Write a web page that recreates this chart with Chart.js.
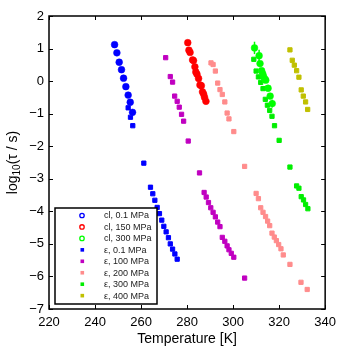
<!DOCTYPE html>
<html><head><meta charset="utf-8">
<script src="https://cdn.jsdelivr.net/npm/chart.js@4/dist/chart.umd.min.js"></script>
<style>html,body{margin:0;padding:0;background:#fff;}canvas{display:block;}</style>
</head><body>
<canvas id="c" width="342" height="349"></canvas>
<script>
// ---- data (temperature [K], log10(tau/s)) ----
const cl01T = [248.5, 249.5, 250.5, 251.5, 252.4, 253.4, 254.4, 255.3, 256.3];
const cl01Y = [1.12, 0.87, 0.58, 0.35, 0.09, -0.17, -0.43, -0.65, -0.96];
const cl150T = [280.3, 280.8, 281.3, 282.4, 282.8, 283.4, 283.8, 284.3, 285.0, 285.6, 286.2, 286.7, 287.2, 287.6, 288.2];
const cl150Y = [1.18, 0.95, 0.88, 0.65, 0.63, 0.44, 0.28, 0.21, 0.08, -0.12, -0.14, -0.33, -0.40, -0.50, -0.62];
const cl300T = [309.3, 311.3, 311.7, 312.4, 312.9, 313.3, 313.8, 314.2, 315.2, 316.1, 317.0];
const cl300Y = [1.02, 0.78, 0.54, 0.32, 0.22, 0.13, 0.06, 0.03, -0.22, -0.46, -0.69];
const cl300Err = [0.19, 0.18, 0, 0, 0, 0, 0, 0, 0.04, 0, 0.12];
const e01T = [254.4, 255.4, 256.4, 261.2, 264.1, 265.1, 266.0, 267.0, 268.0, 269.0, 269.9, 270.9, 271.9, 272.7, 273.7, 274.7, 275.7];
const e01Y = [-0.82, -1.11, -1.37, -2.52, -3.26, -3.46, -3.66, -3.88, -4.07, -4.27, -4.46, -4.63, -4.81, -5.00, -5.16, -5.31, -5.47];
const e100T = [270.7, 272.7, 273.7, 274.6, 275.7, 276.6, 277.6, 278.5, 280.5, 285.4, 287.4, 288.3, 289.3, 290.3, 291.3, 292.3, 293.3, 294.3, 295.3, 296.4, 297.4, 298.2, 299.2, 300.3, 305.0];
const e100Y = [0.72, 0.14, -0.03, -0.46, -0.62, -0.80, -1.02, -1.23, -1.84, -2.82, -3.42, -3.56, -3.73, -3.89, -4.03, -4.17, -4.33, -4.47, -4.80, -4.92, -5.06, -5.18, -5.29, -5.41, -6.05];
const e200T = [290.4, 291.3, 292.3, 293.3, 294.3, 295.3, 296.4, 297.4, 298.2, 300.3, 305.0, 310.0, 311.0, 312.0, 313.0, 314.1, 315.0, 315.9, 316.9, 317.9, 318.8, 319.8, 320.8, 321.8, 324.7, 329.5, 332.2];
const e200Y = [0.56, 0.51, 0.31, -0.06, -0.26, -0.41, -0.64, -0.98, -1.16, -1.55, -2.62, -3.45, -3.61, -3.89, -4.03, -4.16, -4.30, -4.44, -4.67, -4.79, -4.90, -5.02, -5.15, -5.34, -5.63, -6.18, -6.40];
const e300T = [309.0, 310.0, 311.0, 312.0, 313.0, 314.0, 314.9, 315.9, 316.9, 318.0, 320.0, 324.7, 327.6, 328.6, 329.6, 330.6, 331.5, 332.5];
const e300Y = [0.67, 0.31, 0.13, -0.04, -0.23, -0.56, -0.74, -0.90, -1.08, -1.37, -1.82, -2.64, -3.22, -3.29, -3.55, -3.65, -3.79, -3.92];
const e400T = [324.7,325.7, 326.6, 327.6, 328.6, 329.6, 330.5, 331.5, 332.4];
const e400Y = [0.96, 0.64, 0.49, 0.32, 0.12, -0.27, -0.46, -0.64, -0.87];

const xTicks = [220, 240, 260, 280, 300, 320, 340];
const yTicks = [-7, -6, -5, -4, -3, -2, -1, 0, 1, 2];
const seriesLabels = ['cl, 0.1 MPa', 'cl, 150 MPa', 'cl, 300 MPa', 'ε, 0.1 MPa', 'ε, 100 MPa', 'ε, 200 MPa', 'ε, 300 MPa', 'ε, 400 MPa'];

const pts = (T, Y) => T.map((t, i) => ({x: t, y: Y[i]}));
const FONT = '"Liberation Sans", Arial, Helvetica, sans-serif';

function ds(label, T, Y, color, style) {
  const circ = style === 'circle';
  return {
    label, data: pts(T, Y), showLine: false,
    pointStyle: circ ? 'circle' : 'rect',
    pointRadius: circ ? 3.4 : 3.0,
    pointBorderWidth: circ ? 0.5 : 1,
    backgroundColor: color, borderColor: color,
    pointBackgroundColor: color, pointBorderColor: color
  };
}

const colors = ['#0000ff', '#ff0000', '#00ff00', '#0000ff', '#c000c0', '#ff8c8c', '#00ee00', '#c0c000'];
const styles = ['circle', 'circle', 'circle', 'rect', 'rect', 'rect', 'rect', 'rect'];

const datasets = [
  ds(seriesLabels[0], cl01T, cl01Y, colors[0], styles[0]),
  ds(seriesLabels[1], cl150T, cl150Y, colors[1], styles[1]),
  ds(seriesLabels[2], cl300T, cl300Y, colors[2], styles[2]),
  ds(seriesLabels[3], e01T, e01Y, colors[3], styles[3]),
  ds(seriesLabels[4], e100T, e100Y, colors[4], styles[4]),
  ds(seriesLabels[5], e200T, e200Y, colors[5], styles[5]),
  ds(seriesLabels[6], e300T, e300Y, colors[6], styles[6]),
  ds(seriesLabels[7], e400T, e400Y, colors[7], styles[7])
];

const decor = {
  id: 'decor',
  beforeDatasetsDraw(chart) {
    const {ctx, scales: {x, y}} = chart;
    ctx.save();
    ctx.strokeStyle = '#00ff00';
    ctx.lineWidth = 1.5;
    cl300T.forEach((t, i) => {
      const e = cl300Err[i];
      if (!e) return;
      const px = x.getPixelForValue(t);
      ctx.beginPath();
      ctx.moveTo(px, y.getPixelForValue(cl300Y[i] - e));
      ctx.lineTo(px, y.getPixelForValue(cl300Y[i] + e));
      ctx.stroke();
    });
    ctx.restore();
  },
  afterDraw(chart) {
    const {ctx, chartArea: a, scales: {x, y}} = chart;
    ctx.save();
    // frame
    ctx.strokeStyle = '#000';
    ctx.lineWidth = 1.5;
    ctx.strokeRect(a.left, a.top, a.right - a.left, a.bottom - a.top);
    // inward ticks on all sides
    ctx.lineWidth = 1;
    const tl = 4;
    xTicks.forEach(v => {
      const px = Math.round(x.getPixelForValue(v)) + 0.5;
      ctx.beginPath();
      ctx.moveTo(px, a.bottom); ctx.lineTo(px, a.bottom - tl);
      ctx.moveTo(px, a.top); ctx.lineTo(px, a.top + tl);
      ctx.stroke();
    });
    yTicks.forEach(v => {
      const py = Math.round(y.getPixelForValue(v)) + 0.5;
      ctx.beginPath();
      ctx.moveTo(a.left, py); ctx.lineTo(a.left + tl, py);
      ctx.moveTo(a.right, py); ctx.lineTo(a.right - tl, py);
      ctx.stroke();
    });
    // x title
    ctx.fillStyle = '#000';
    ctx.font = '14px ' + FONT;
    ctx.textAlign = 'center';
    ctx.textBaseline = 'middle';
    ctx.fillText('Temperature [K]', (a.left + a.right) / 2, 339);
    // y title with subscript
    ctx.save();
    ctx.translate(12, (a.top + a.bottom) / 2);
    ctx.rotate(-Math.PI / 2);
    ctx.textBaseline = 'alphabetic';
    ctx.textAlign = 'left';
    const f1 = '14px ' + FONT, f2 = '10px ' + FONT;
    ctx.font = f1; const w1 = ctx.measureText('log').width;
    ctx.font = f2; const w2 = ctx.measureText('10').width;
    ctx.font = f1; const w3 = ctx.measureText('(τ / s)').width;
    let sx = -(w1 + w2 + w3) / 2;
    const by = 5;
    ctx.font = f1; ctx.fillText('log', sx, by); sx += w1;
    ctx.font = f2; ctx.fillText('10', sx, by + 3); sx += w2;
    ctx.font = f1; ctx.fillText('(τ / s)', sx, by);
    ctx.restore();
    // legend
    const L = 55, T = 208, R = 157, B = 304;
    ctx.fillStyle = '#fff';
    ctx.fillRect(L, T, R - L, B - T);
    ctx.strokeStyle = '#000';
    ctx.lineWidth = 1.5;
    ctx.strokeRect(L, T, R - L, B - T);
    ctx.font = '9px ' + FONT;
    ctx.textAlign = 'left';
    ctx.textBaseline = 'middle';
    const rowH = 11.45;
    seriesLabels.forEach((lab, i) => {
      const cy = 215.5 + i * rowH;
      const c = colors[i];
      if (styles[i] === 'circle') {
        ctx.beginPath();
        ctx.arc(82, cy, 2.2, 0, Math.PI * 2);
        ctx.strokeStyle = c; ctx.lineWidth = 1.3;
        ctx.stroke();
      } else {
        ctx.fillStyle = c;
        ctx.fillRect(80.5, cy - 1.8, 3.6, 3.6);
      }
      ctx.fillStyle = '#222';
      ctx.fillText(lab, 104, cy + 0.5);
    });
    ctx.restore();
  }
};

new Chart(document.getElementById('c'), {
  type: 'scatter',
  data: {datasets},
  options: {
    responsive: false,
    devicePixelRatio: 1,
    animation: false,
    layout: {padding: {left: 0, right: 15, top: 16, bottom: 0}},
    plugins: {legend: {display: false}, tooltip: {enabled: false}},
    scales: {
      x: {
        type: 'linear', min: 220, max: 340,
        afterFit: s => { s.height = 40; },
        afterBuildTicks: s => { s.ticks = xTicks.map(v => ({value: v})); },
        grid: {display: false, drawTicks: false, tickLength: 0}, border: {display: false},
        ticks: {color: '#000', padding: 6, font: {size: 13, family: FONT}, maxRotation: 0}
      },
      y: {
        type: 'linear', min: -7, max: 2,
        afterFit: s => { s.width = 49; },
        afterBuildTicks: s => { s.ticks = yTicks.map(v => ({value: v})); },
        grid: {display: false, drawTicks: false, tickLength: 0}, border: {display: false},
        ticks: {color: '#000', padding: 5, font: {size: 13, family: FONT},
          callback: v => v < 0 ? '\u2212' + Math.abs(v) : String(v)}
      }
    }
  },
  plugins: [decor]
});
</script>
</body></html>
